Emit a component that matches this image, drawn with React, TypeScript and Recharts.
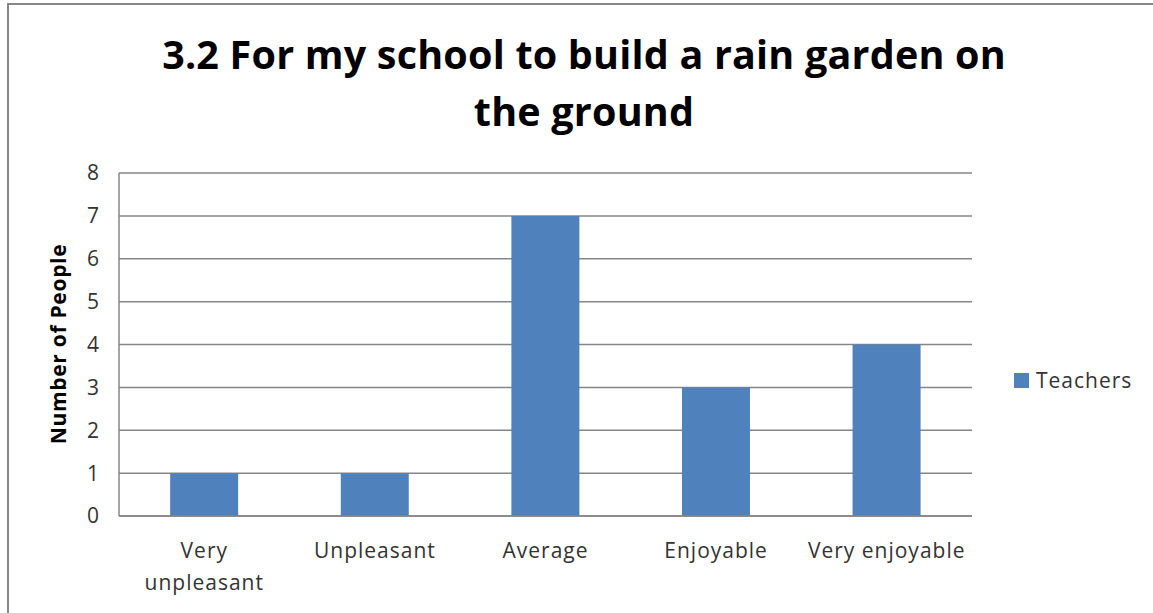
import { BarChart, Bar, XAxis, YAxis, CartesianGrid } from "recharts";

const categories = ["Very unpleasant", "Unpleasant", "Average", "Enjoyable", "Very enjoyable"];
const teachers = [1, 1, 7, 3, 4];
const yTicks = [0, 1, 2, 3, 4, 5, 6, 7, 8];

const data = categories.map((name, i) => ({ name, Teachers: teachers[i] }));

const FONT = "'Open Sans', 'DejaVu Sans', sans-serif";
const BLUE = "#4F81BD";

function WrapTick(props: any) {
  const { x, y, payload } = props;
  const label: string = payload.value;
  // long labels wrap onto two lines like the spreadsheet does
  const sp = label.indexOf(" ");
  const lines = label.length > 14 ? [label.slice(0, sp), label.slice(sp + 1)] : [label];
  return (
    <text x={x} y={y} textAnchor="middle" fill="#333" fontSize={21} letterSpacing={1} fontFamily={FONT}>
      {lines.map((l, i) => (
        <tspan key={i} x={x} dy={i === 0 ? 34 : 32}>{l}</tspan>
      ))}
    </text>
  );
}

export default function App() {
  return (
    <div style={{ position: "absolute", left: 0, top: 0, width: 1153, height: 613, overflow: "hidden", background: "#fff" }}>
      <div style={{ position: "absolute", left: 7, top: 3, width: 1200, height: 700, border: "2px solid #868686", boxSizing: "border-box" }} />
      <div style={{ position: "absolute", left: 0, top: 26, width: 1168, textAlign: "center", fontFamily: FONT, fontWeight: 700, fontSize: 39.5, letterSpacing: 0.2, lineHeight: "57px", color: "#000" }}>
        3.2 For my school to build a rain garden on<br />the ground
      </div>
      <div style={{ position: "absolute", left: 58, top: 344, transform: "translate(-50%, -50%) rotate(-90deg)", whiteSpace: "nowrap", fontFamily: FONT, fontWeight: 700, fontSize: 21, letterSpacing: 0.7, color: "#000" }}>
        Number of People
      </div>
      <div style={{ position: "absolute", left: 0, top: 0 }}>
        <BarChart width={1153} height={613} data={data} margin={{ top: 173, right: 181, bottom: 0, left: 59 }} barCategoryGap="30%">
          <CartesianGrid vertical={false} stroke="#868686" strokeWidth={1.5} />
          <XAxis dataKey="name" tick={<WrapTick />} tickLine={false} axisLine={{ stroke: "#868686", strokeWidth: 1.5 }} interval={0} height={97} />
          <YAxis domain={[0, 8]} ticks={yTicks} width={60} tickLine={false} axisLine={{ stroke: "#868686", strokeWidth: 1.5 }} tick={{ fill: "#333", fontSize: 21, fontFamily: FONT }} tickMargin={14} />
          <Bar dataKey="Teachers" fill={BLUE} isAnimationActive={false} />
        </BarChart>
      </div>
      <div style={{ position: "absolute", left: 1014, top: 366, display: "flex", alignItems: "center", fontFamily: FONT, fontSize: 21, letterSpacing: 1, color: "#333" }}>
        <span style={{ width: 15, height: 15, background: BLUE, display: "inline-block", marginRight: 7 }} />
        Teachers
      </div>
    </div>
  );
}
